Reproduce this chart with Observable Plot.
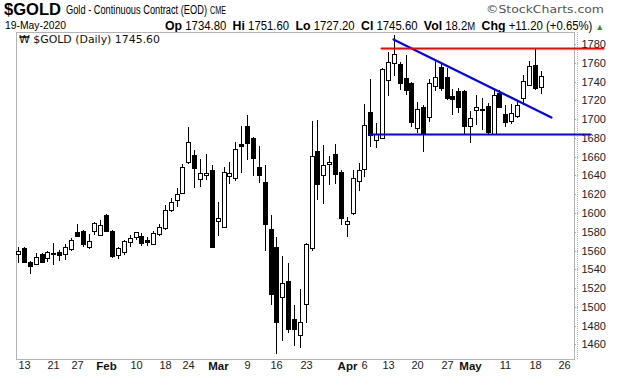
<!DOCTYPE html>
<html>
<head>
<meta charset="utf-8">
<script src="https://cdn.jsdelivr.net/npm/d3@7"></script>
<script src="https://cdn.jsdelivr.net/npm/@observablehq/plot@0.6"></script>
<style>
  html, body { margin: 0; padding: 0; background: #fff; }
  body { width: 620px; height: 376px; overflow: hidden; position: relative; font-family: "Liberation Sans", Arial, sans-serif; color: #000; }
  .t { position: absolute; white-space: nowrap; display: inline-block; transform-origin: 0 50%; line-height: 1; }
  #sym { left: 4px; top: 1px; font-size: 17px; font-weight: bold; }
  #nm { left: 66px; top: 4px; font-size: 12.5px; }
  #ex { left: 210px; top: 5px; font-size: 10.5px; }
  #sc { left: 486px; top: 4px; font-size: 11px; color: #555; font-family: "DejaVu Sans", sans-serif; }
  #dt { left: 5px; top: 20px; font-size: 11.5px; }
  #q { left: 165px; top: 19px; font-size: 12px; }
  #q b { font-size: 13px; }
  #q .up { color: #1a9a1a; font-size: 9px; }
  #q .s { font-size: 10px; }
  #lab { left: 19px; top: 34px; font-size: 10.5px; font-family: "DejaVu Sans", sans-serif; color: #111; }
  #chart { position: absolute; left: 0; top: 32px; }
  #dots { position: absolute; left: 577px; top: 32px; height: 327px; border-left: 1px dotted #b0b0b0; }
</style>
</head>
<body>
<div class="t" id="sym">$GOLD</div>
<div class="t" id="nm">Gold - Continuous Contract (EOD)</div>
<div class="t" id="ex">CME</div>
<div class="t" id="sc">©StockCharts.com</div>
<div class="t" id="dt">19-May-2020</div>
<div class="t" id="q"><b>Op</b> 1734.80 &nbsp;<b>Hi</b> 1751.60 &nbsp;<b>Lo</b> 1727.20 &nbsp;<b>Cl</b> 1745.60 &nbsp;<b>Vol</b> 18.2<span class="s">M</span> &nbsp;<b>Chg</b> +11.20 (+0.65%) <span class="up">▲</span></div>
<div id="dots"></div>
<div id="chart"></div>
<div class="t" id="lab">₩ $GOLD (Daily) 1745.60</div>
<script>
// ---- data (trading days, Jan 10 – May 19, 2020) ----
const dates = [
  "2020-01-10","2020-01-13","2020-01-14","2020-01-15","2020-01-16","2020-01-17",
  "2020-01-21","2020-01-22","2020-01-23","2020-01-24",
  "2020-01-27","2020-01-28","2020-01-29","2020-01-30","2020-01-31",
  "2020-02-03","2020-02-04","2020-02-05","2020-02-06","2020-02-07",
  "2020-02-10","2020-02-11","2020-02-12","2020-02-13","2020-02-14",
  "2020-02-18","2020-02-19","2020-02-20","2020-02-21",
  "2020-02-24","2020-02-25","2020-02-26","2020-02-27","2020-02-28",
  "2020-03-02","2020-03-03","2020-03-04","2020-03-05","2020-03-06",
  "2020-03-09","2020-03-10","2020-03-11","2020-03-12","2020-03-13",
  "2020-03-16","2020-03-17","2020-03-18","2020-03-19","2020-03-20",
  "2020-03-23","2020-03-24","2020-03-25","2020-03-26","2020-03-27",
  "2020-03-30","2020-03-31","2020-04-01","2020-04-02","2020-04-03",
  "2020-04-06","2020-04-07","2020-04-08","2020-04-09",
  "2020-04-13","2020-04-14","2020-04-15","2020-04-16","2020-04-17",
  "2020-04-20","2020-04-21","2020-04-22","2020-04-23","2020-04-24",
  "2020-04-27","2020-04-28","2020-04-29","2020-04-30","2020-05-01",
  "2020-05-04","2020-05-05","2020-05-06","2020-05-07","2020-05-08",
  "2020-05-11","2020-05-12","2020-05-13","2020-05-14","2020-05-15",
  "2020-05-18","2020-05-19"
];
const opens = [
  1557.5,1562.3,1547.7,1546.3,1556.2,1552.7,
  1557.5,1558.0,1557.7,1562.3,
  1579.7,1580.8,1565.1,1581.8,1577.5,
  1597.8,1580.8,1555.9,1559.8,1570.4,
  1575.4,1575.4,1571.2,1568.3,1578.3,
  1584.7,1603.9,1614.5,1622.7,
  1655.7,1661.7,1636.9,1642.0,1645.7,
  1592.5,1585.7,1640.2,1637.9,1673.5,
  1692.6,1679.5,1648.6,1632.6,1582.9,
  1563.7,1511.8,1527.5,1487.0,1470.6,
  1503.7,1563.3,1666.0,1641.5,1653.5,
  1662.4,1643.3,1588.9,1601.3,1635.1,
  1647.5,1707.2,1678.4,1680.5,
  1742.4,1761.2,1758.7,1743.4,1738.1,
  1691.9,1712.5,1703.3,1736.3,1755.0,
  1744.5,1724.2,1730.3,1730.3,1693.3,
  1710.4,1710.8,1713.6,1685.2,1727.8,
  1705.4,1699.4,1704.7,1723.2,1737.4,
  1757.3,1734.8
];
const highs = [
  1564.0,1564.0,1548.5,1557.7,1557.7,1559.8,
  1568.3,1560.5,1566.5,1573.0,
  1588.2,1582.0,1577.2,1590.0,1592.5,
  1598.5,1581.5,1564.0,1571.2,1576.5,
  1580.0,1578.3,1574.0,1581.1,1588.2,
  1608.5,1615.6,1626.2,1651.8,
  1691.2,1667.1,1657.1,1662.8,1651.1,
  1611.3,1648.6,1654.6,1675.2,1692.6,
  1704.3,1680.5,1671.3,1651.1,1597.8,
  1574.7,1554.1,1546.3,1501.9,1518.6,
  1568.3,1698.3,1699.0,1672.4,1660.7,
  1673.4,1645.7,1596.0,1645.7,1652.8,
  1716.0,1742.4,1695.5,1754.0,
  1771.8,1789.6,1761.2,1768.3,1739.0,
  1718.6,1715.0,1742.4,1762.2,1758.7,
  1754.4,1732.4,1733.1,1731.0,1709.0,
  1726.0,1722.5,1717.1,1731.3,1731.3,
  1715.4,1716.0,1719.6,1747.3,1762.2,
  1775.0,1751.6
];
const lows = [
  1547.0,1546.3,1535.0,1545.6,1547.0,1548.1,
  1544.5,1548.8,1549.8,1559.8,
  1574.7,1564.1,1561.2,1576.5,1576.5,
  1580.0,1551.6,1550.6,1555.2,1563.4,
  1571.2,1564.8,1564.8,1565.8,1575.4,
  1582.0,1601.3,1606.0,1620.2,
  1652.2,1626.2,1628.0,1635.1,1563.4,
  1575.4,1585.4,1630.5,1634.4,1642.2,
  1656.4,1639.3,1631.5,1559.8,1501.9,
  1449.7,1463.9,1472.4,1458.2,1455.7,
  1483.1,1559.8,1613.8,1609.5,1629.8,
  1630.8,1587.1,1574.7,1597.8,1623.7,
  1637.9,1670.6,1668.8,1678.4,
  1724.6,1745.9,1731.0,1725.7,1691.2,
  1684.8,1665.3,1697.2,1730.3,1730.3,
  1720.7,1704.0,1706.5,1683.4,1674.5,
  1694.0,1688.7,1684.1,1684.1,1712.5,
  1691.2,1694.8,1701.1,1715.4,1734.9,
  1731.3,1727.2
];
const closes = [
  1559.0,1549.1,1544.5,1553.4,1549.2,1558.7,
  1557.0,1555.9,1564.1,1571.2,
  1576.9,1568.3,1570.1,1588.9,1587.1,
  1581.8,1555.2,1562.3,1570.1,1573.0,
  1579.3,1569.4,1570.5,1578.3,1585.4,
  1603.1,1611.3,1619.8,1648.6,
  1676.0,1649.3,1642.2,1642.5,1564.8,
  1594.9,1644.0,1642.4,1667.8,1672.0,
  1675.2,1660.0,1641.5,1589.6,1515.0,
  1485.2,1525.0,1477.0,1477.0,1483.4,
  1566.5,1660.7,1632.2,1651.1,1654.3,
  1642.2,1596.0,1591.4,1636.9,1645.7,
  1693.7,1684.1,1684.1,1753.0,
  1761.2,1769.3,1739.9,1731.7,1698.3,
  1710.4,1686.6,1738.1,1745.2,1734.5,
  1723.2,1722.5,1713.6,1693.3,1701.2,
  1712.5,1711.2,1686.9,1725.3,1713.6,
  1698.3,1706.1,1715.4,1740.2,1756.2,
  1733.8,1745.6
];

// x axis: trading-day index (0 = Jan 13) and its labels
const xTickPos    = [0, 5, 9, 14, 19, 24, 28, 33, 38, 43, 48, 55, 58, 62, 67, 72, 76, 82, 87, 92];
const xTickLabels = ["13","21","27","Feb","10","18","24","Mar","9","16","23","Apr","6","13","20","27","May","11","18","26"];
const monthLabels = ["Feb","Mar","Apr","May"];
const yTicks = [1460,1480,1500,1520,1540,1560,1580,1600,1620,1640,1660,1680,1700,1720,1740,1760,1780];

// annotation lines (trading-day index, price)
const resistanceLine = [{i: 60.9, v: 1776}, {i: 98.6, v: 1776}];
const supportLine    = [{i: 58.9, v: 1684}, {i: 96.5, v: 1684}];
const downTrendLine  = [{i: 62.9, v: 1785.3}, {i: 89.7, v: 1702.5}];

// ---- build ----
const base = dates.indexOf("2020-01-13");
const candles = dates.map((d, k) => ({i: k - base, o: opens[k], h: highs[k], l: lows[k], c: closes[k]}));
const dayTicks = xTickPos.map((p, k) => ({p, s: xTickLabels[k]})).filter(t => !monthLabels.includes(t.s));
const monTicks = xTickPos.map((p, k) => ({p, s: xTickLabels[k]})).filter(t => monthLabels.includes(t.s));

const chart = Plot.plot({
  width: 620,
  height: 344,
  marginTop: 0,
  marginLeft: 16,
  marginRight: 46,
  marginBottom: 17,
  style: {fontFamily: "'Liberation Sans', Arial, sans-serif", fontSize: "11px", color: "#222", background: "transparent", overflow: "visible"},
  x: {domain: [-1.363, 93.7], round: true, axis: null, label: null},
  y: {domain: [1444.4, 1792.8], round: true, axis: null, label: null},
  marks: [
    Plot.frame({stroke: "#b4b4b4", shapeRendering: "crispEdges"}),
    Plot.ruleX(candles, {x: "i", y1: "l", y2: "h", stroke: "#000", strokeWidth: 1, clip: true, shapeRendering: "crispEdges"}),
    Plot.rect(candles, {
      x1: "i", x2: "i", y1: "o", y2: "c",
      insetLeft: -2, insetRight: -2, insetTop: 0, insetBottom: -1,
      fill: d => d.c >= d.o ? "#ffffff" : "#000000",
      stroke: "#000", strokeWidth: 1, clip: true, shapeRendering: "crispEdges"
    }),
    Plot.line(supportLine, {x: "i", y: "v", stroke: "#0000ff", strokeWidth: 2}),
    Plot.line(downTrendLine, {x: "i", y: "v", stroke: "#0000ff", strokeWidth: 2.2}),
    Plot.line(resistanceLine, {x: "i", y: "v", stroke: "#ff0000", strokeWidth: 2}),
    Plot.axisY({anchor: "right", label: null, ticks: yTicks, tickFormat: d => String(d), tickSize: 4, tickPadding: 3,
                stroke: "#aaa", strokeDasharray: "1,1", fill: "#222", fontSize: 11, textAnchor: "start"}),
    Plot.axisX(dayTicks.map(t => t.p), {anchor: "bottom", label: null, tickSize: 0, tickPadding: 2,
                tickFormat: p => dayTicks.find(t => t.p === p).s, fill: "#222", fontSize: 11}),
    Plot.axisX(monTicks.map(t => t.p), {anchor: "bottom", label: null, tickSize: 0, tickPadding: 2,
                tickFormat: p => monTicks.find(t => t.p === p).s, fill: "#111", fontSize: 11.5, fontWeight: "bold"})
  ]
});
document.getElementById("chart").appendChild(chart);

// fit header texts to their measured widths in the reference
function fit(id, w) {
  const el = document.getElementById(id);
  const r = el.getBoundingClientRect().width;
  if (r > 0) el.style.transform = `scaleX(${w / r})`;
}
fit("sym", 57);
fit("nm", 141);
fit("ex", 16);
fit("sc", 118);
fit("dt", 61);
fit("q", 439);
fit("lab", 141);
</script>
</body>
</html>
